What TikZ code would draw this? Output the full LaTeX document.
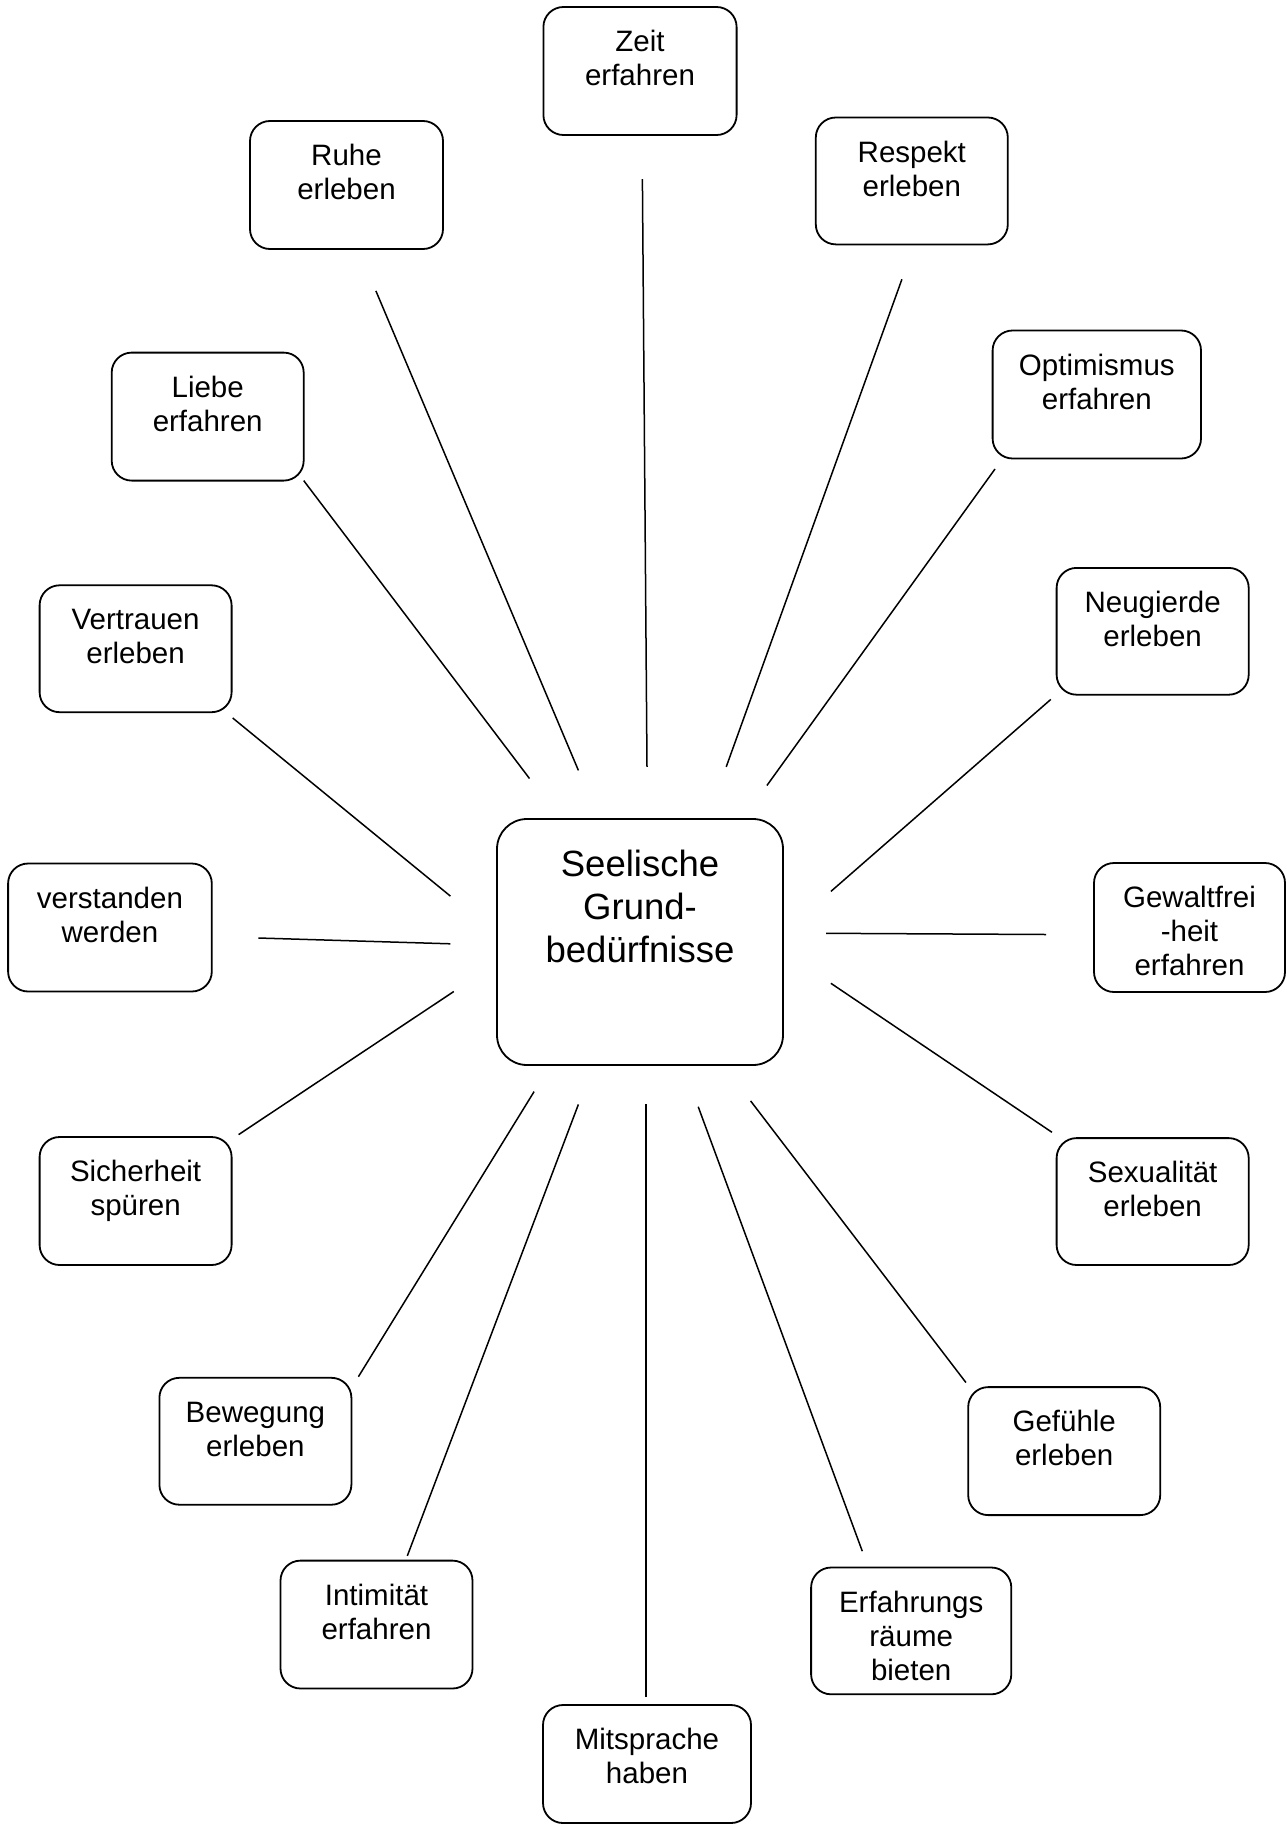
\documentclass[tikz,border=0pt]{standalone}
\usepackage{fontspec}
\setmainfont{Liberation Sans}
\tikzset{
  box/.style={draw, line width=1.8pt, rounded corners=20pt, inner sep=0pt},
  bigbox/.style={draw, line width=1.8pt, rounded corners=30pt, inner sep=0pt},
  spoke/.style={line width=1.5pt}
}
\newcommand\boxfont{\fontsize{29.5}{34}\selectfont}
\newcommand\mybox[6]{%
  \pgfmathsetmacro\bw{#4-#2}\pgfmathsetmacro\bh{#5-#3}%
  \node[box] (#1) at ({(#2+#4)/2},{(#3+#5)/2})
    {\parbox[c][\bh pt][t]{\bw pt}{\centering\boxfont\rule{0pt}{44.5pt}#6}};}
\begin{document}
\begin{tikzpicture}[x=1pt,y=-1pt]
\useasboundingbox (0,0) rectangle (1287,1825);
\fill[white] (0,0) rectangle (1287,1825);
% centre
\node[bigbox] (center) at (640,942)
  {\parbox[c][246pt][t]{286pt}{\centering\fontsize{36.5}{43}\selectfont\rule{0pt}{57pt}Seelische\\Grund-\\bedürfnisse}};
% boxes
\mybox{zeit}{543.4}{7}{736.6}{135}{Zeit\\erfahren}
\mybox{ruhe}{250}{121}{443}{249}{Ruhe\\erleben}
\mybox{respekt}{815.8}{117.5}{1007.8}{244.4}{Respekt\\erleben}
\mybox{liebe}{111.7}{352.6}{303.7}{480.6}{Liebe\\erfahren}
\mybox{optimismus}{992.6}{330.5}{1201}{458.5}{Optimismus\\erfahren}
\mybox{vertrauen}{39.6}{585.3}{231.6}{712.2}{Vertrauen\\erleben}
\mybox{neugierde}{1056.6}{567.9}{1248.7}{694.7}{Neugierde\\erleben}
\mybox{verstanden}{8.1}{863.5}{211.8}{991.5}{verstanden\\werden}
\mybox{gewalt}{1094}{863}{1285}{992}{Gewaltfrei\\-heit\\erfahren}
\mybox{sicherheit}{39.6}{1137}{231.6}{1265}{Sicherheit\\spüren}
\mybox{sexualitaet}{1056.6}{1138.1}{1248.7}{1265}{Sexualität\\erleben}
\mybox{bewegung}{159.4}{1377.8}{351.4}{1504.7}{Bewegung\\erleben}
\mybox{gefuehle}{968.2}{1387.1}{1160.2}{1515.1}{Gefühle\\erleben}
\mybox{intimitaet}{280.5}{1560.6}{472.5}{1688.5}{Intimität\\erfahren}
\mybox{erfahrung}{811.1}{1567.5}{1011.3}{1694.3}{Erfahrungs\\räume\\bieten}
\mybox{mitsprache}{543}{1705}{751}{1823}{Mitsprache\\haben}
% spoke end points
\coordinate (zeit-a) at (642.4,179.2);   \coordinate (zeit-b) at (647,766.9);
\coordinate (ruhe-a) at (375.9,290.9);   \coordinate (ruhe-b) at (578.4,770.4);
\coordinate (respekt-a) at (901.9,279.3); \coordinate (respekt-b) at (726.2,766.9);
\coordinate (liebe-a) at (303.7,480.6);  \coordinate (liebe-b) at (529.5,778.5);
\coordinate (optimismus-a) at (995,469); \coordinate (optimismus-b) at (766.9,785.5);
\coordinate (vertrauen-a) at (232.7,718); \coordinate (vertrauen-b) at (450.4,896.1);
\coordinate (neugierde-a) at (1050.8,699.4); \coordinate (neugierde-b) at (830.9,891.4);
\coordinate (verstanden-a) at (258.3,938); \coordinate (verstanden-b) at (450.4,943.8);
\coordinate (gewalt-a) at (1046.2,934.5); \coordinate (gewalt-b) at (826.2,933.3);
\coordinate (sicherheit-a) at (238.6,1134.6); \coordinate (sicherheit-b) at (453.8,991.5);
\coordinate (sexualitaet-a) at (1052,1132.3); \coordinate (sexualitaet-b) at (830.9,983.3);
\coordinate (bewegung-a) at (358.4,1376.7); \coordinate (bewegung-b) at (534.1,1091.6);
\coordinate (gefuehle-a) at (965.9,1382.5); \coordinate (gefuehle-b) at (750.6,1100.9);
\coordinate (intimitaet-a) at (407.3,1555.9); \coordinate (intimitaet-b) at (578.4,1104.4);
\coordinate (erfahrung-a) at (862.3,1551.2); \coordinate (erfahrung-b) at (698.2,1106.7);
\coordinate (mitsprache-a) at (645.9,1697); \coordinate (mitsprache-b) at (645.9,1104.4);
\foreach \n in {zeit,ruhe,respekt,liebe,optimismus,vertrauen,neugierde,verstanden,gewalt,sicherheit,sexualitaet,bewegung,gefuehle,intimitaet,erfahrung,mitsprache}
  \draw[spoke] (\n-a) -- (\n-b);
\end{tikzpicture}
\end{document}
